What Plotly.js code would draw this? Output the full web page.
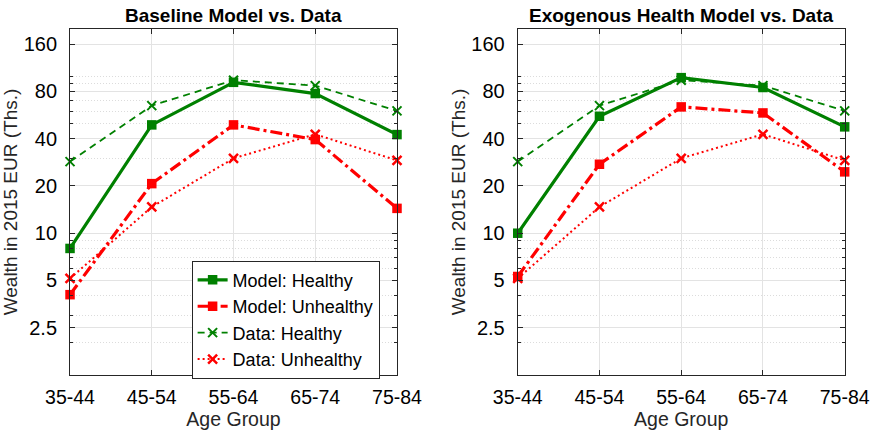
<!DOCTYPE html>
<html>
<head>
<meta charset="utf-8">
<script src="https://cdn.plot.ly/plotly-3.0.1.min.js"></script>
<style>
  html, body { margin: 0; padding: 0; background: #fff; }
  #gd { width: 871px; height: 433px; }
</style>
</head>
<body>
<div id="gd"></div>
<script>
// age groups on the x axis
const ageGroups = ['35-44', '45-54', '55-64', '65-74', '75-84'];
const xPos = [0, 1, 2, 3, 4];

// wealth, thousands of 2015 EUR
const baseModelHealthy   = [8.0, 49.0, 91.5, 77.6, 42.5];
const baseModelUnhealthy = [4.06, 20.7, 49.0, 39.5, 14.4];
const exoModelHealthy    = [10.0, 55.6, 98.0, 84.8, 47.6];
const exoModelUnhealthy  = [5.3, 27.5, 63.8, 58.4, 24.6];
const dataHealthy        = [28.6, 65.0, 94.4, 87.2, 60.2];
const dataUnhealthy      = [5.15, 14.7, 30.0, 42.7, 29.1];

const yTicks = [2.5, 5, 10, 20, 40, 80, 160];
const yMinor = [2, 3, 4, 5, 6, 7, 8, 9, 10, 20, 30, 40, 50, 60, 70, 80, 90, 100, 200];

const GREEN = '#008000';
const RED = '#ff0000';
const FONT = 'Liberation Sans, Arial, Helvetica, sans-serif';

function series(xa, ya, show) {
  return [
    {
      x: xPos, y: xa === 'x' ? baseModelHealthy : exoModelHealthy,
      xaxis: xa, yaxis: ya, name: 'Model: Healthy', showlegend: show,
      mode: 'lines+markers', cliponaxis: false,
      line: {color: GREEN, width: 3.2},
      marker: {symbol: 'square', size: 9.5, color: GREEN}
    },
    {
      x: xPos, y: xa === 'x' ? baseModelUnhealthy : exoModelUnhealthy,
      xaxis: xa, yaxis: ya, name: 'Model: Unhealthy', showlegend: show,
      mode: 'lines+markers', cliponaxis: false,
      line: {color: RED, width: 3.2, dash: '12px,4px,3px,4px'},
      marker: {symbol: 'square', size: 9.5, color: RED}
    },
    {
      x: xPos, y: dataHealthy,
      xaxis: xa, yaxis: ya, name: 'Data: Healthy', showlegend: show,
      mode: 'lines+markers', cliponaxis: false,
      line: {color: GREEN, width: 1.8, dash: '7px,5px'},
      marker: {symbol: 'x-thin-open', size: 9, color: GREEN, line: {color: GREEN, width: 2}}
    },
    {
      x: xPos, y: dataUnhealthy,
      xaxis: xa, yaxis: ya, name: 'Data: Unhealthy', showlegend: show,
      mode: 'lines+markers', cliponaxis: false,
      line: {color: RED, width: 2, dash: '2px,3px'},
      marker: {symbol: 'x-thin-open', size: 9, color: RED, line: {color: RED, width: 2.5}}
    }
  ];
}

const data = series('x', 'y', true).concat(series('x2', 'y2', false));

function xAxis(domain, anchor) {
  return {
    domain: domain, anchor: anchor,
    range: [0, 4],
    tickmode: 'array', tickvals: xPos, ticktext: ageGroups,
    ticks: 'inside', ticklen: 5, tickcolor: '#262626',
    showline: true, linecolor: '#262626', linewidth: 1, mirror: 'ticks',
    showgrid: true, gridcolor: '#e3e3e3', zeroline: false,
    tickfont: {size: 19.5, color: '#000'},
    ticklabelstandoff: 5,
    title: {text: 'Age Group', font: {size: 19.5, color: '#262626'}, standoff: 4},
    automargin: false
  };
}

function yAxis(domain, anchor) {
  return {
    domain: domain, anchor: anchor,
    type: 'log',
    range: [Math.log10(1.25), Math.log10(200)],
    tickmode: 'array', tickvals: yTicks, ticktext: yTicks.map(String),
    ticks: 'inside', ticklen: 5, tickcolor: '#262626',
    showline: true, linecolor: '#262626', linewidth: 1, mirror: 'ticks',
    showgrid: true, gridcolor: '#e3e3e3', zeroline: false,
    minor: {
      tickmode: 'array', tickvals: yMinor,
      ticks: 'inside', ticklen: 3, tickcolor: '#262626',
      showgrid: true, gridcolor: '#dcdcdc', griddash: '1px,2px', gridwidth: 1
    },
    tickfont: {size: 20, color: '#000'},
    ticklabelstandoff: 8,
    title: {text: 'Wealth in 2015 EUR (Ths.)', font: {size: 19, color: '#262626'}, standoff: 0},
    automargin: false
  };
}

const yDom = [0.134, 0.933];

const layout = {
  width: 871, height: 433,
  margin: {l: 0, r: 0, t: 0, b: 0},
  paper_bgcolor: '#fff', plot_bgcolor: '#fff',
  font: {family: FONT, size: 19, color: '#000'},
  showlegend: true,
  xaxis: xAxis([0.0804, 0.4558], 'y'),
  yaxis: yAxis(yDom, 'x'),
  xaxis2: xAxis([0.5944, 0.9698], 'y2'),
  yaxis2: yAxis(yDom, 'x2'),
  legend: {
    x: 0.220, y: 0.398, xanchor: 'left', yanchor: 'top',
    bgcolor: '#fff', bordercolor: '#262626', borderwidth: 1,
    font: {size: 18, color: '#000'},
    tracegroupgap: 0, itemwidth: 30
  },
  annotations: [
    {
      text: '<b>Baseline Model vs. Data</b>', xref: 'paper', yref: 'paper',
      x: 0.268, y: 0.964, xanchor: 'center', yanchor: 'middle', showarrow: false,
      font: {size: 19, color: '#000'}
    },
    {
      text: '<b>Exogenous Health Model vs. Data</b>', xref: 'paper', yref: 'paper',
      x: 0.782, y: 0.964, xanchor: 'center', yanchor: 'middle', showarrow: false,
      font: {size: 19, color: '#000'}
    }
  ]
};

Plotly.newPlot('gd', data, layout, {displayModeBar: false, staticPlot: true});
</script>
</body>
</html>
